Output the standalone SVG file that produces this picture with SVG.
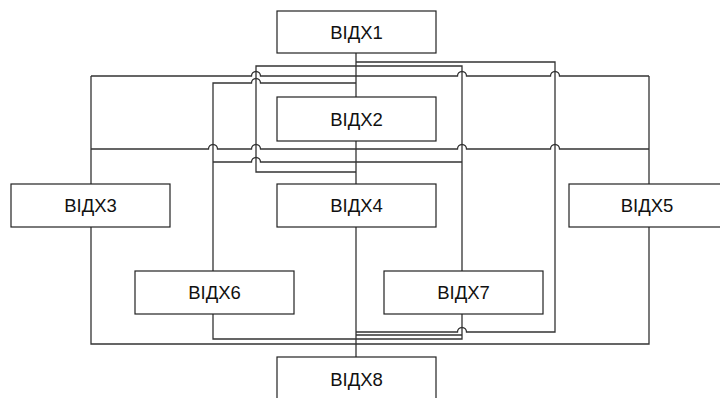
<svg xmlns="http://www.w3.org/2000/svg" width="720" height="398" viewBox="0 0 720 398">
<style>
.c{fill:none;stroke:#333;stroke-width:1.3}
.b{fill:#fff;stroke:#222;stroke-width:1.2}
.t{font-family:"Liberation Sans",Arial,sans-serif;font-size:18.5px;fill:#111;text-anchor:middle}
</style>
<rect width="720" height="398" fill="#fff"/>
<g id="connectors">
<path class="c" d="M356,53 V357"/>
<path class="c" d="M91,76 V344 H649 V76"/>
<path class="c" d="M91,76 H251.5 A4.5,4.5 0 0 1 260.5,76 H457.5 A4.5,4.5 0 0 1 466.5,76 H550.5 A4.5,4.5 0 0 1 559.5,76 H649"/>
<path class="c" d="M91,149 H208.5 A4.5,4.5 0 0 1 217.5,149 H251.5 A4.5,4.5 0 0 1 260.5,149 H457.5 A4.5,4.5 0 0 1 466.5,149 H550.5 A4.5,4.5 0 0 1 559.5,149 H649"/>
<path class="c" d="M213,271 V83 H251.5 A4.5,4.5 0 0 1 260.5,83 H356"/>
<path class="c" d="M213,162 H251.5 A4.5,4.5 0 0 1 260.5,162 H462"/>
<path class="c" d="M356,172 H256 V66 H462 V271"/>
<path class="c" d="M356,62 H555 V332 H466.5 A4.5,4.5 0 0 0 457.5,332 H356"/>
<path class="c" d="M462,314 V339 H213 V314"/>
<path class="c" d="M462,335 H356"/>
</g>
<g id="n1"><rect class="b" x="277" y="11" width="159" height="42"/><text class="t" x="356.5" y="39">ВІДХ1</text></g>
<g id="n2"><rect class="b" x="277" y="97" width="159" height="44"/><text class="t" x="356.5" y="126">ВІДХ2</text></g>
<g id="n3"><rect class="b" x="11" y="184" width="159" height="43"/><text class="t" x="90.5" y="212">ВІДХ3</text></g>
<g id="n4"><rect class="b" x="277" y="184" width="159" height="43"/><text class="t" x="356.5" y="212">ВІДХ4</text></g>
<g id="n5"><rect class="b" x="569" y="184" width="159" height="43"/><text class="t" x="647" y="212">ВІДХ5</text></g>
<g id="n6"><rect class="b" x="135" y="271" width="159" height="43"/><text class="t" x="214.5" y="299">ВІДХ6</text></g>
<g id="n7"><rect class="b" x="384" y="271" width="159" height="43"/><text class="t" x="463.5" y="299">ВІДХ7</text></g>
<g id="n8"><rect class="b" x="277" y="357" width="159" height="44"/><text class="t" x="356.5" y="386">ВІДХ8</text></g>
</svg>
